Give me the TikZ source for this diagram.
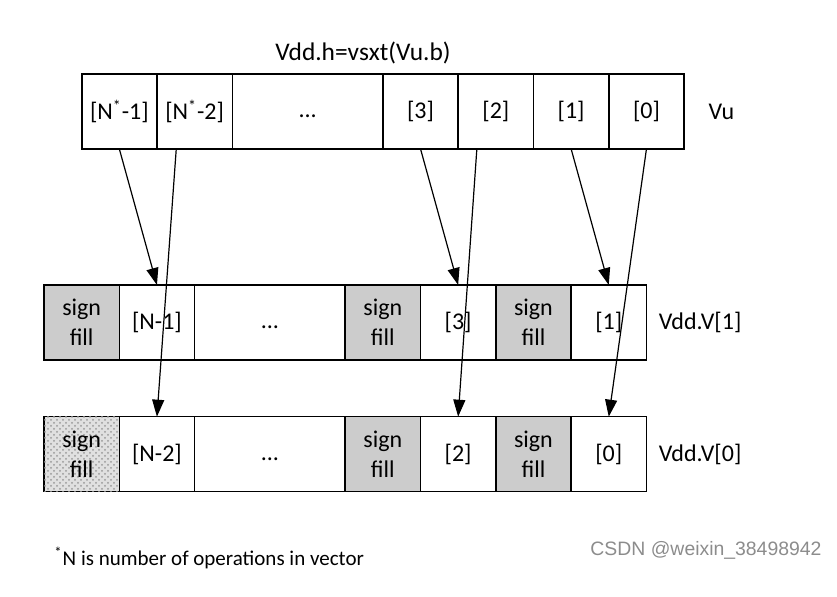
\documentclass[tikz,border=0pt]{standalone}
\usepackage{fontspec}
\setmainfont{Carlito}
\newfontfamily\wmfont{Liberation Sans}
\usetikzlibrary{chains,positioning,arrows.meta,patterns}

\begin{document}
\begin{tikzpicture}[
x=0.5pt,y=-0.5pt,
cell/.style={
  draw,
  line width=0.8pt,
  outer sep=0pt,
  inner sep=1pt,
  minimum width=37.65pt,
  minimum height=37.5pt,
  font=\fontsize{12}{15}\selectfont,
  align=center,
  on chain
},
wide/.style={
  cell,
  minimum width=75.3pt
},
signfill/.style={
  cell,
  fill=black!20
},
dotfill/.style={
  cell,
  fill=black!12,
  postaction={pattern=crosshatch dots,pattern color=black!40}
},
arr/.style={
  -{Triangle[length=8.5pt,width=6pt]},
  line width=0.6pt
},
regname/.style={
  font=\fontsize{12}{13}\selectfont,
  inner sep=0pt
},
node distance=0pt
]
\useasboundingbox (0,0) rectangle (837,597);

\node[regname,font=\fontsize{12.7}{14}\selectfont] (title) at (363,53) {Vdd.h=vsxt(Vu.b)};

% source register
\begin{scope}[start chain=vu going right]
\node[cell,anchor=west] at (81.7,111.5) (u-n1) {[N\textsuperscript{*}-1]};
\node[cell] (u-n2) {[N\textsuperscript{*}-2]};
\node[wide] (u-dots) {\strut...};
\node[cell] (u-e3) {[3]};
\node[cell] (u-e2) {[2]};
\node[cell] (u-e1) {[1]};
\node[cell] (u-e0) {[0]};
\end{scope}
\node[regname,right=12pt of u-e0] (vu) {Vu};

% odd half
\begin{scope}[start chain=hi going right]
\node[signfill,anchor=west] at (44,322.5) (a-sf1) {sign\\fill};
\node[cell] (a-n1) {[N-1]};
\node[wide] (a-dots) {\strut...};
\node[signfill] (a-sf2) {sign\\fill};
\node[cell] (a-e3) {[3]};
\node[signfill] (a-sf3) {sign\\fill};
\node[cell] (a-e1) {[1]};
\end{scope}
\node[regname,right=6pt of a-e1] (vdd1) {Vdd.V[1]};

% even half
\begin{scope}[start chain=lo going right]
\node[dotfill,anchor=west] at (44,454.2) (b-sf1) {sign\\fill};
\node[cell] (b-n2) {[N-2]};
\node[wide] (b-dots) {\strut...};
\node[signfill] (b-sf2) {sign\\fill};
\node[cell] (b-e2) {[2]};
\node[signfill] (b-sf3) {sign\\fill};
\node[cell] (b-e0) {[0]};
\end{scope}
\node[regname,right=6pt of b-e0] (vdd0) {Vdd.V[0]};

\draw[arr] (u-n1.south) -- (a-n1.north);
\draw[arr] ([xshift=-9.2pt]u-n2.south) -- (b-n2.north);
\draw[arr] (u-e3.south) -- (a-e3.north);
\draw[arr] ([xshift=-9.5pt]u-e2.south) -- (b-e2.north);
\draw[arr] (u-e1.south) -- (a-e1.north);
\draw[arr] (u-e0.south) -- (b-e0.north);

\node[anchor=west,inner sep=0pt,font=\fontsize{10.5}{12}\selectfont] (note) at (54,558)
  {\textsuperscript{*}N is number of operations in vector};
\node[inner sep=0pt,text=black!45,font=\wmfont\fontsize{9.7}{11}\selectfont] (mark) at (706,550)
  {CSDN @weixin\_38498942};
\end{tikzpicture}
\end{document}
